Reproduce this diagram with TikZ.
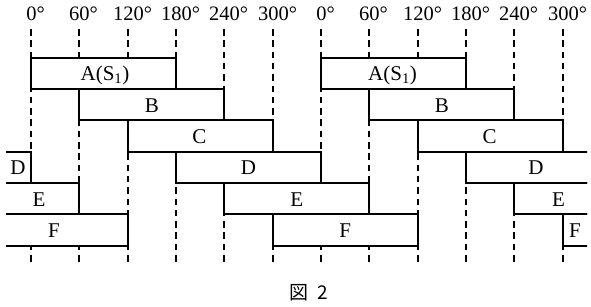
\documentclass[tikz,border=0pt]{standalone}
\usepackage{fontspec}
\setmainfont{Liberation Serif}
\newfontfamily\cjk{Noto Sans CJK JP}
\begin{document}
\begin{tikzpicture}[x=1pt,y=-1pt,
  gridline/.style={line width=1.6pt, dash pattern=on 6.5pt off 4.8pt},
  bar/.style={draw=black, fill=white, line width=1.6pt},
  lab/.style={font=\fontsize{21}{23}\selectfont, inner sep=0pt, anchor=base},
  deg/.style={font=\fontsize{20.5}{22}\selectfont, inner sep=0pt, anchor=base},
  captext/.style={font=\cjk\fontsize{19}{21}\selectfont, inner sep=0pt, anchor=base}]
\useasboundingbox (0,0) rectangle (591,306);
% dashed phase lines and degree labels
\foreach \x/\t [count=\i] in {31/0,79/60,128/120,176/180,224/240,273/300,321/0,369/60,418/120,466/180,514/240,563/300} {
  \draw[gridline] (\x,29) -- (\x,262);
  \node[deg] (d\i) at (\x+4.5,20.5) {\t°};
}
% conduction bars
\begin{scope}
  \clip (6,0) rectangle (587,306);
  % A
  \draw[bar] (31,58) rectangle (176,89);
  \draw[bar] (321,58) rectangle (466,89);
  % B
  \draw[bar] (79,89) rectangle (224,120);
  \draw[bar] (369,89) rectangle (514,120);
  % C
  \draw[bar] (128,120) rectangle (273,152);
  \draw[bar] (418,120) rectangle (563,152);
  % D
  \draw[bar] (-20,152) rectangle (31,183);
  \draw[bar] (176,152) rectangle (321,183);
  \draw[bar] (466,152) rectangle (620,183);
  % E
  \draw[bar] (-20,183) rectangle (79,214);
  \draw[bar] (224,183) rectangle (369,214);
  \draw[bar] (514,183) rectangle (620,214);
  % F
  \draw[bar] (-20,214) rectangle (128,246);
  \draw[bar] (273,214) rectangle (418,246);
  \draw[bar] (563,214) rectangle (620,246);
\end{scope}
% labels, first cycle
\node[lab] (a0) at (105,80.8) {A(S\textsubscript{1})};
\node[lab] (b0) at (151.8,112.1) {B};
\node[lab] (c0) at (199.5,143.4) {C};
\node[lab] (e0) at (248.5,174.8) {D};
\node[lab] (f0) at (296.8,206.1) {E};
\node[lab] (g0) at (345.2,237.4) {F};
% labels, second cycle
\node[lab] (a1) at (392.5,80.8) {A(S\textsubscript{1})};
\node[lab] (b1) at (441.8,112.1) {B};
\node[lab] (c1) at (489.5,143.4) {C};
\node[lab] (e1) at (536,174.8) {D};
\node[lab] (f1) at (558.5,206.1) {E};
\node[lab] (g1) at (575,237.4) {F};
% labels, previous cycle (left edge)
\node[lab] (em) at (18,174.8) {D};
\node[lab] (fm) at (39,206.1) {E};
\node[lab] (gm) at (54,237.4) {F};
% caption
\node[captext] (caption) at (309,299.5) {図\hspace{0.45em}2};
\end{tikzpicture}
\end{document}
